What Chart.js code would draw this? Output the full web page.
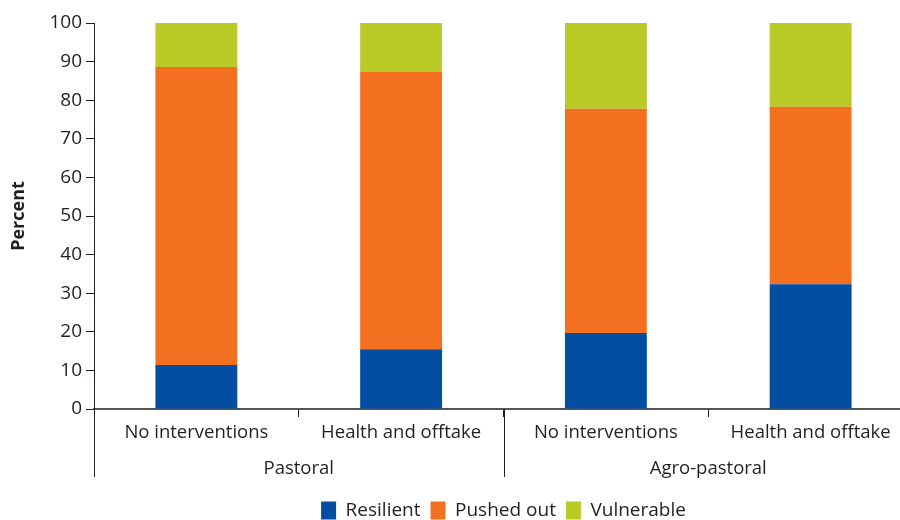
<!DOCTYPE html>
<html>
<head>
<meta charset="utf-8">
<script src="https://cdn.jsdelivr.net/npm/chart.js@4"></script>
<style>
  html, body { margin: 0; background: #fff; overflow: hidden; }
  #wrap { width: 913px; height: 520px; }
</style>
</head>
<body>
<div id="wrap"><canvas id="chart1"></canvas></div>
<script>
const categories = ['No interventions', 'Health and offtake', 'No interventions', 'Health and offtake'];
const groups = ['Pastoral', 'Agro-pastoral'];
const resilient = [11.4, 15.5, 19.7, 32.3];
const pushedOut = [77.2, 71.9, 58.1, 46.0];
const vulnerable = [11.4, 12.6, 22.2, 21.7];
const yTicks = [0, 10, 20, 30, 40, 50, 60, 70, 80, 90, 100];

const textColor = '#231f20';
const fontFamily = "'Open Sans', 'Noto Sans', sans-serif";

// group labels and separators under the category axis
const groupAxis = {
  id: 'groupAxis',
  afterDraw(chart) {
    const x = chart.scales.x;
    const ctx = chart.ctx;
    const bottom = chart.chartArea.bottom;
    const step = x.getPixelForValue(1) - x.getPixelForValue(0);
    const per = categories.length / groups.length;
    ctx.save();
    ctx.strokeStyle = '#231f20';
    ctx.lineWidth = 1;
    for (let g = 0; g < groups.length; g++) {
      const left = x.getPixelForValue(g * per) - step / 2;
      ctx.beginPath();
      ctx.moveTo(Math.round(left) + 0.5, bottom);
      ctx.lineTo(Math.round(left) + 0.5, bottom + 68);
      ctx.stroke();
      ctx.fillStyle = textColor;
      ctx.font = '18.5px ' + fontFamily;
      ctx.textAlign = 'center';
      ctx.textBaseline = 'middle';
      ctx.fillText(groups[g], left + step * per / 2, bottom + 60);
    }
    ctx.restore();
  }
};

new Chart(document.getElementById('chart1').getContext('2d'), {
  type: 'bar',
  data: {
    labels: categories,
    datasets: [
      { label: 'Resilient', data: resilient, backgroundColor: '#034ea2' },
      { label: 'Pushed out', data: pushedOut, backgroundColor: '#f37021' },
      { label: 'Vulnerable', data: vulnerable, backgroundColor: '#b9c926' }
    ]
  },
  options: {
    responsive: true,
    maintainAspectRatio: false,
    animation: false,
    barPercentage: 0.4,
    categoryPercentage: 1,
    layout: { padding: { top: 23, right: 0, left: 0, bottom: -10 } },
    plugins: {
      tooltip: { enabled: false },
      legend: {
        position: 'bottom',
        fullSize: false,
        labels: {
          color: textColor,
          font: { family: fontFamily, size: 19 },
          boxWidth: 15,
          boxHeight: 18,
          padding: 10
        }
      }
    },
    scales: {
      x: {
        stacked: true,
        grid: { offset: true, drawOnChartArea: false, tickLength: 8, color: '#231f20' },
        border: { color: '#555', width: 2 },
        ticks: { color: textColor, font: { family: fontFamily, size: 18.5 }, padding: 5, maxRotation: 0 },
        afterFit(scale) { scale.height = 82; }
      },
      y: {
        stacked: true,
        min: 0,
        max: 100,
        afterBuildTicks(scale) { scale.ticks = yTicks.map(v => ({ value: v })); },
        grid: { drawOnChartArea: false, tickLength: 8, color: '#231f20' },
        border: { color: '#231f20' },
        ticks: { color: textColor, font: { family: fontFamily, size: 19 }, padding: 4 },
        title: { display: true, text: 'Percent', color: textColor, font: { family: fontFamily, size: 18, weight: 'bold' }, padding: { top: 8, bottom: 0 } },
        afterFit(scale) { scale.width = 94; }
      }
    }
  },
  plugins: [groupAxis]
});
</script>
</body>
</html>
